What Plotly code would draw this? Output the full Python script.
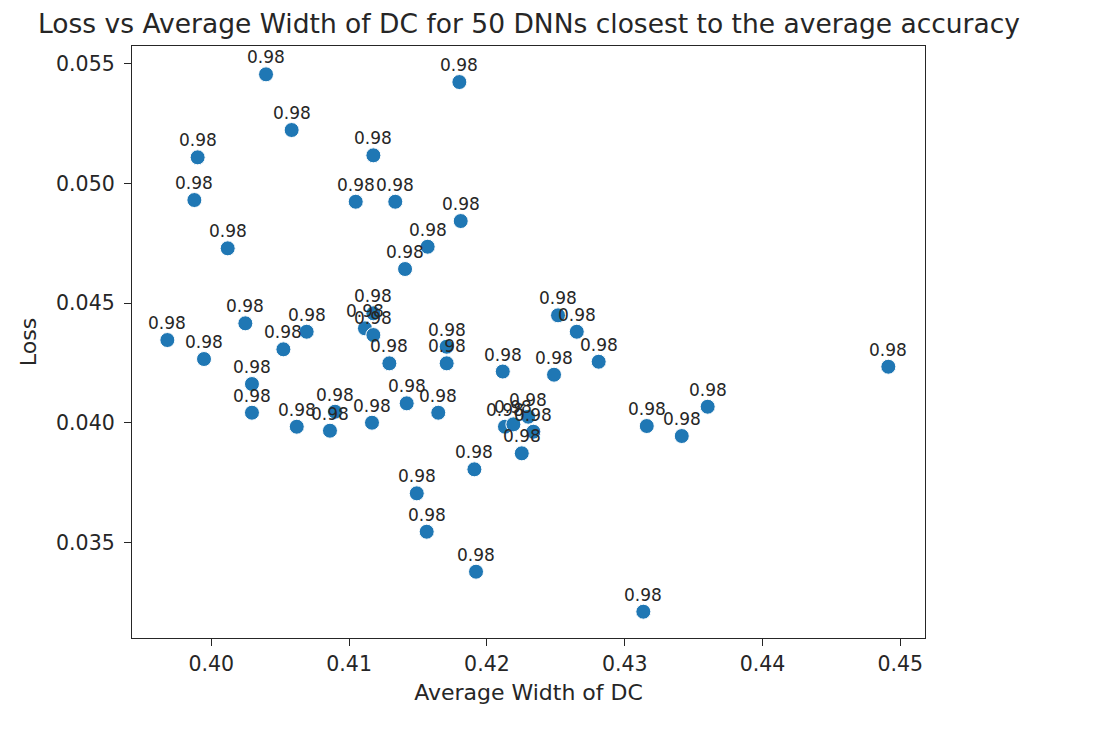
import plotly.graph_objects as go

# average width of DC for each of the 50 DNNs
avg_width = [0.40397, 0.40583, 0.39901, 0.39877, 0.40119, 0.41800, 0.41176, 0.41048, 0.41335, 0.41810,
             0.41570, 0.41406, 0.39681, 0.39947, 0.40247, 0.40523, 0.40692, 0.41176, 0.41115, 0.41176,
             0.41292, 0.41708, 0.41708, 0.40295, 0.40295, 0.40620, 0.40861, 0.40898, 0.41166, 0.41418,
             0.41647, 0.42115, 0.42516, 0.42652, 0.42811, 0.42487, 0.42131, 0.42192, 0.42300, 0.42337,
             0.42253, 0.41909, 0.41491, 0.41563, 0.41921, 0.43135, 0.43160, 0.43414, 0.43602, 0.44913]
loss = [0.054565, 0.052237, 0.051095, 0.049310, 0.047291, 0.054243, 0.051179, 0.049239, 0.049239, 0.048432,
        0.047358, 0.046426, 0.043457, 0.042663, 0.044156, 0.043069, 0.043804, 0.044574, 0.043946, 0.043666,
        0.042483, 0.043177, 0.042483, 0.041618, 0.040418, 0.039833, 0.039666, 0.040460, 0.040000, 0.040811,
        0.040418, 0.042140, 0.044490, 0.043804, 0.042550, 0.042007, 0.039833, 0.039933, 0.040251, 0.039624,
        0.038721, 0.038052, 0.037048, 0.035443, 0.033771, 0.032099, 0.039862, 0.039444, 0.040669, 0.042341]
accuracy = [0.98] * 50

font_family = "DejaVu Sans"
text_color = '#262626'

fig = go.Figure(go.Scatter(
    x=avg_width,
    y=loss,
    mode='markers',
    marker=dict(size=15, color='#1f77b4', line=dict(width=1, color='white')),
    cliponaxis=False,
    showlegend=False,
))

# accuracy label above each point
for xv, yv, acc in zip(avg_width, loss, accuracy):
    fig.add_annotation(x=xv, y=yv, text=f"{acc:.2f}", showarrow=False,
                       xanchor='center', yanchor='middle', yshift=17,
                       font=dict(size=17, color=text_color, family=font_family))

axis_style = dict(
    showgrid=False, zeroline=False,
    showline=True, mirror=True, linecolor=text_color, linewidth=1.3,
    ticks='outside', ticklen=7, tickwidth=1.3, tickcolor=text_color,
    tickfont=dict(size=20.5, color=text_color, family=font_family),
)

fig.update_xaxes(range=[0.394245, 0.45179], dtick=0.01, tick0=0.40, tickformat='.2f',
                 title=dict(text='Average Width of DC', font=dict(size=22, color=text_color, family=font_family),
                            standoff=9),
                 **axis_style)
fig.update_yaxes(range=[0.03100, 0.05575], dtick=0.005, tick0=0.035, tickformat='.3f',
                 ticklabelstandoff=5,
                 title=dict(text='Loss', font=dict(size=22, color=text_color, family=font_family),
                            standoff=13),
                 **axis_style)

fig.update_layout(
    width=1098, height=730,
    title=dict(text='Loss vs Average Width of DC for 50 DNNs closest to the average accuracy',
               x=521 / 1098, xanchor='center', y=1 - 16 / 730, yanchor='middle', yref='container',
               font=dict(size=26.5, color=text_color, family=font_family)),
    margin=dict(l=124, r=181, t=38, b=100),
    plot_bgcolor='white', paper_bgcolor='white',
)

fig.write_html("out.html")
